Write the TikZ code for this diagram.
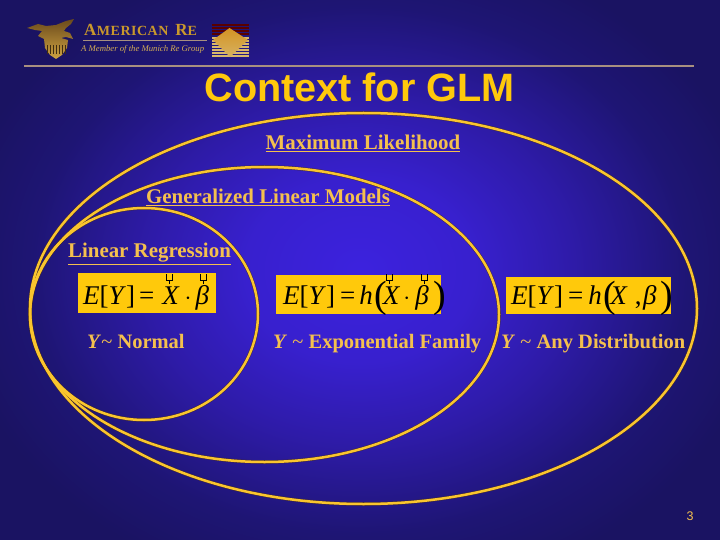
\documentclass[tikz,border=0pt]{standalone}
\usepackage{fontspec}
\setmainfont{Liberation Serif}
\newfontfamily\arialf{Liberation Sans}
\definecolor{bgA}{HTML}{3C22DE}
\definecolor{bgB}{HTML}{2E1BA8}
\definecolor{bgC}{HTML}{1E1574}
\definecolor{bgD}{HTML}{1A1362}
\definecolor{gold}{HTML}{FFC90B}
\definecolor{ringdark}{HTML}{4A2E20}
\definecolor{ringgold}{HTML}{FAC52E}
\definecolor{labelgold}{HTML}{F4C04E}
\definecolor{logogold}{HTML}{C9982C}
\definecolor{logodark}{HTML}{6A4A1C}
\definecolor{rulec}{HTML}{A89080}
\pgfdeclareradialshading{bgshade}{\pgfpoint{0bp}{0bp}}{color(0bp)=(bgA);color(7bp)=(bgA!70!bgB);color(13bp)=(bgB);color(20bp)=(bgC);color(25bp)=(bgD);color(50bp)=(bgD)}
\newcommand{\vecmark}[1]{\draw[black,line width=.8pt] (#1) ++(-3,-6) -- ++(0,6) -- ++(6,0) -- ++(0,-6) (#1) -- ++(0,4);}
\newcommand{\bigp}[1]{\raisebox{-3pt}{\fontsize{38}{38}\selectfont #1}}
\tikzset{
  x=1pt,y=-1pt,
  ring/.style={line width=3.6pt,draw=ringdark,opacity=.75},
  ringtop/.style={line width=2.5pt,draw=ringgold},
  lab/.style={text=labelgold,font=\fontsize{20.9}{24}\selectfont\bfseries,inner sep=0pt,anchor=base},
  lablow/.style={text=labelgold,font=\fontsize{20.5}{24}\selectfont\bfseries,inner sep=0pt,anchor=base west},
  formula/.style={fill=gold,inner sep=0pt},
  ftext/.style={inner sep=0pt,anchor=base west,text=black,font=\fontsize{27}{30}\selectfont},
  heading/.style={text=gold,inner sep=0pt,font=\arialf\bfseries\fontsize{39.6}{42}\selectfont},
  logotext/.style={text=logogold,inner sep=0pt,anchor=base west}
}
\begin{document}
\begin{tikzpicture}
\useasboundingbox (0,0) rectangle (720,540);
\begin{scope}
\clip (0,0) rectangle (720,540);
\fill[bgD] (0,0) rectangle (720,540);
\shade[shading=bgshade] (360,270) circle [x radius=410,y radius=330];
\end{scope}
% logo
\shade[top color=logodark,bottom color=logogold!90!white,draw=none]
  (27,28) -- (38,24) -- (46,26) -- (56,25) -- (66,21) -- (74,19) -- (71,24) -- (66,28) -- (64,31) -- (70,33) -- (73,39) -- (66,37) -- (61,38) -- (68,40) -- (67,48) -- (62,55) -- (56,59) -- (50,55) -- (45,48) -- (44,39) -- (38,36) -- (42,31) -- (35,30) -- cycle;
\foreach \sx in {47,50,53,56,59,62,65} {\draw[logodark!60!black,line width=.8pt] (\sx,45) -- (\sx,54);}
\node[logotext,font=\fontsize{17}{18}\selectfont\bfseries] (logoA) at (84,36) {A\fontsize{14}{16}\selectfont\kern.5pt M\kern.5pt E\kern.5pt R\kern.5pt I\kern.5pt C\kern.5pt A\kern.5pt N\kern7pt\fontsize{17}{18}\selectfont R\fontsize{14}{16}\selectfont E};
\node[logotext,text=logogold!80!white,font=\fontsize{8.7}{10}\selectfont\itshape] (logoB) at (81,52) {A Member of the Munich Re Group};
\coordinate (la) at (83,40.5); \coordinate (lb) at (207,40.5);
\draw[rulec,line width=1pt] (la) -- (lb);
\foreach \yy in {24,27,30,33} {\fill[red!35!black] (212,\yy) rectangle (249,\yy+1.8);}
\foreach \yy in {37,40,43,46,49,52,55} {\fill[logogold!70!white] (212,\yy) rectangle (249,\yy+1.6);}
\shade[top color=logogold!80!orange,bottom color=logogold!75!white] (229.5,28) -- (248,40) -- (230,57) -- (213,40) -- cycle;
\coordinate (ruleL) at (24,66); \coordinate (ruleR) at (694,66);
\draw[rulec,line width=1.3pt] (ruleL) -- (ruleR);
% title
\node[heading] (title) at (359.5,87) {Context for GLM};
% ellipses
\foreach \st in {ring,ringtop} {
  \draw[\st] (363.5,308.5) circle [x radius=333.5,y radius=195.5];
  \draw[\st] (264.5,314.5) circle [x radius=234.5,y radius=147.5];
  \draw[\st] (144,314) circle [x radius=114,y radius=106];
}
% labels
\node[lab] (ml) at (363,150) {\underline{Maximum Likelihood}};
\node[lab] (glm) at (268,204) {\underline{Generalized Linear Models}};
\node[lab] (lr) at (149.5,258) {\underline{Linear Regression}};
% formula boxes
\node[formula,minimum width=138,minimum height=40] (f1) at (147,293) {};
\node[formula,minimum width=165,minimum height=39] (f2) at (358.5,294.5) {};
\node[formula,minimum width=165,minimum height=37] (f3) at (588.5,295) {};
\node[ftext] (t1) at (83,304) {\textit{E}[\textit{Y}]\kern4pt=\kern8pt\textit{X}\kern5pt$\cdot$\kern4pt\textit{β}};
\node[ftext] (t2) at (283,304) {\textit{E}[\textit{Y}]\kern5pt=\kern4pt\textit{h}\kern1.5pt\bigp{(}\kern-4pt\textit{X}\kern3pt$\cdot$\kern5pt\textit{β}\kern4.5pt\bigp{)}};
\node[ftext] (t3) at (511,304) {\textit{E}[\textit{Y}]\kern5pt=\kern5pt\textit{h}\kern1.5pt\bigp{(}\kern-5.5pt\textit{X}\kern7pt,\kern1.5pt\textit{β}\kern4pt\bigp{)}};
\coordinate (m1) at (169.5,280); \coordinate (m2) at (203.5,280); \coordinate (m3) at (389.5,280); \coordinate (m4) at (424,280);
\vecmark{m1} \vecmark{m2} \vecmark{m3} \vecmark{m4}
% family labels
\node[lablow] (n1) at (87,348) {\textit{Y}\textmd{\textasciitilde} Normal};
\node[lablow] (n2) at (273,348) {\textit{Y}\ \textmd{\textasciitilde} Exponential Family};
\node[lablow] (n3) at (501,348) {\textit{Y}\ \textmd{\textasciitilde} Any Distribution};
\node[text=labelgold,inner sep=0pt,font=\arialf\fontsize{12.5}{14}\selectfont] (pg) at (690,516) {3};
\end{tikzpicture}
\end{document}
